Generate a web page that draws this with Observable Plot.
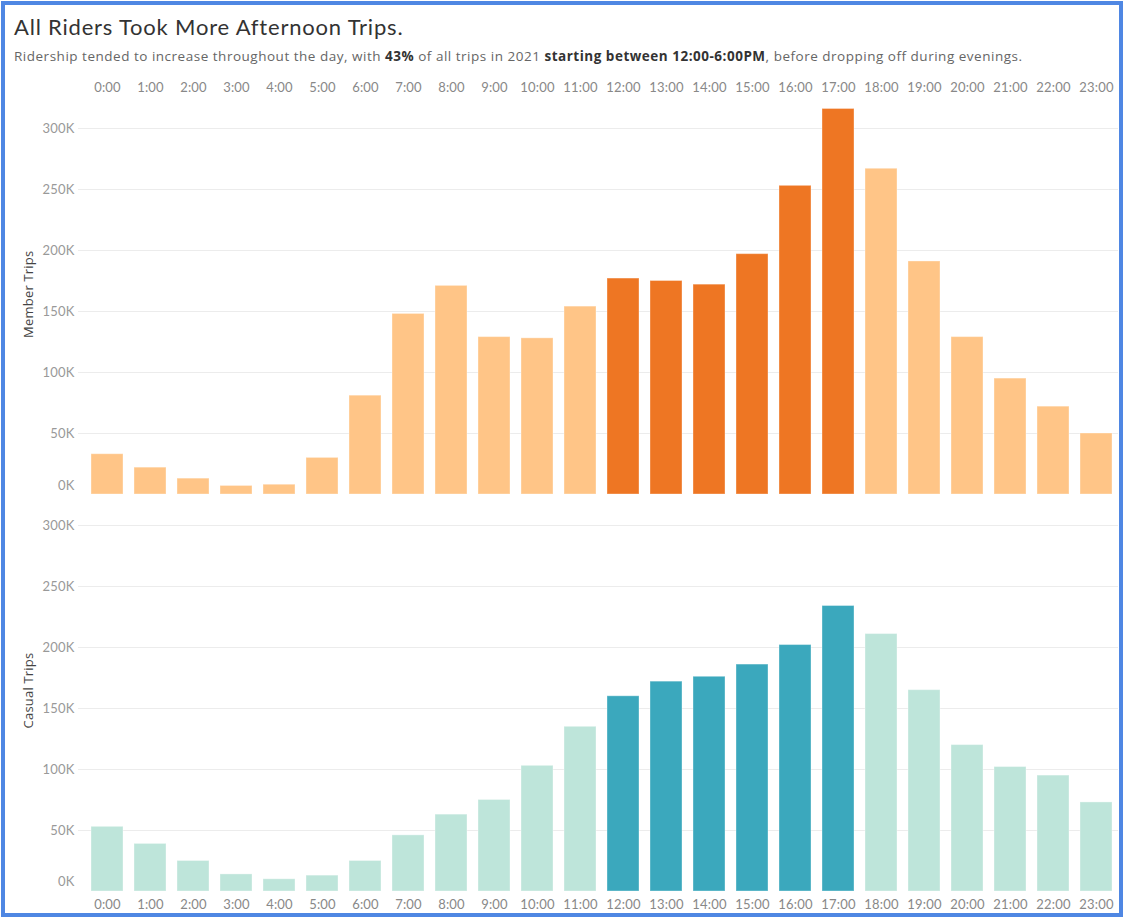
<!DOCTYPE html>
<html><head><meta charset="utf-8">
<script src="https://cdn.jsdelivr.net/npm/d3@7"></script>
<script src="https://cdn.jsdelivr.net/npm/@observablehq/plot@0.6"></script>
<style>
body{margin:0;background:#fff;font-family:Lato,"Noto Sans",sans-serif;}
#wrap{position:relative;width:1124px;height:918px;overflow:hidden;background:#fff;}
#border{position:absolute;left:1px;top:1px;width:1122px;height:916px;box-sizing:border-box;border:4px solid #4F87E3;pointer-events:none;z-index:5;}
#title{position:absolute;left:14px;top:13px;font-size:22px;letter-spacing:0.8px;color:#333;white-space:nowrap;}
#subtitle{position:absolute;left:14px;top:47px;font-family:"Open Sans",sans-serif;font-size:13.5px;letter-spacing:0.51px;color:#666;white-space:nowrap;}
#subtitle b{color:#333;}
#top{position:absolute;left:0;top:70px;}
#bottom{position:absolute;left:0;top:500px;}
</style></head>
<body><div id="wrap">
<div id="title">All Riders Took More Afternoon Trips.</div>
<div id="subtitle">Ridership tended to increase throughout the day, with <b>43%</b> of all trips in 2021 <b>starting between 12:00-6:00PM</b>, before dropping off during evenings.</div>
<div id="top"></div>
<div id="bottom"></div>
<div id="border"></div>
</div>
<script>
const hours = ["0:00","1:00","2:00","3:00","4:00","5:00","6:00","7:00","8:00","9:00","10:00","11:00","12:00","13:00","14:00","15:00","16:00","17:00","18:00","19:00","20:00","21:00","22:00","23:00"];
const memberTrips = [33000,22000,13000,7000,8000,30000,81000,148000,171000,129000,128000,154000,177000,175000,172000,197000,253000,316000,267000,191000,129000,95000,72000,50000];
const casualTrips = [53000,39000,25000,14000,10000,13000,25000,46000,63000,75000,103000,135000,160000,172000,176000,186000,202000,234000,211000,165000,120000,102000,95000,73000];
const afternoonHours = ["12:00","13:00","14:00","15:00","16:00","17:00"];
const yTicks = [50000,100000,150000,200000,250000,300000];
const memberColors = {hi:"#EE7623", lo:"#FFC587"};
const casualColors = {hi:"#3BA8BD", lo:"#BEE5DA"};

const rows = hours.map((h,i)=>({hour:h, member:memberTrips[i], casual:casualTrips[i], hi:afternoonHours.includes(h)}));
const fmt = d => (d/1000) + "K";
const font = "Lato, 'Noto Sans', sans-serif";

function panel({key, colors, label, height, marginTop, marginBottom, yMax, xAnchor, tickPadding, zeroDy, labelDy}) {
  return Plot.plot({
    width: 1124, height, marginLeft: 78, marginRight: 6, marginTop, marginBottom,
    style: {fontFamily: font, fontSize: "13px", letterSpacing: "0.2px", background: "transparent", overflow: "visible"},
    x: {domain: hours, range: [84.5, 1118.5], paddingInner: 0.25, paddingOuter: 0.125},
    y: {domain: [0, yMax]},
    color: {type: "identity"},
    marks: [
      Plot.gridY(yTicks, {stroke: "#ececec", strokeOpacity: 1}),
      Plot.barY(rows, {x: "hour", y: key, fill: d => d.hi ? colors.hi : colors.lo, stroke: "#ffffff", strokeOpacity: 0.35, strokeWidth: 1}),
      Plot.axisY(yTicks, {tickSize: 0, tickPadding: 4, tickFormat: fmt, fill: "#999", label: null}),
      Plot.axisY([0], {tickSize: 0, tickPadding: 4, tickFormat: fmt, fill: "#999", label: null, dy: zeroDy}),
      Plot.axisX({anchor: xAnchor, tickSize: 0, tickPadding, fill: "#888", label: null}),
      Plot.text([label], {frameAnchor: "left", textAnchor: "middle", rotate: -90, dx: -50, dy: labelDy, fill: "#444", fontSize: 13, fontFamily: "'Open Sans', sans-serif"})
    ]
  });
}

document.getElementById("top").append(panel({
  key: "member", colors: memberColors, label: "Member Trips", height: 430,
  marginTop: 27.5, marginBottom: 6, yMax: 325000, xAnchor: "top", tickPadding: 6, zeroDy: -9, labelDy: -2
}));
document.getElementById("bottom").append(panel({
  key: "casual", colors: casualColors, label: "Casual Trips", height: 412,
  marginTop: 25, marginBottom: 21, yMax: 300000, xAnchor: "bottom", tickPadding: 8.5, zeroDy: -10, labelDy: -18
}));
</script>
</body></html>
